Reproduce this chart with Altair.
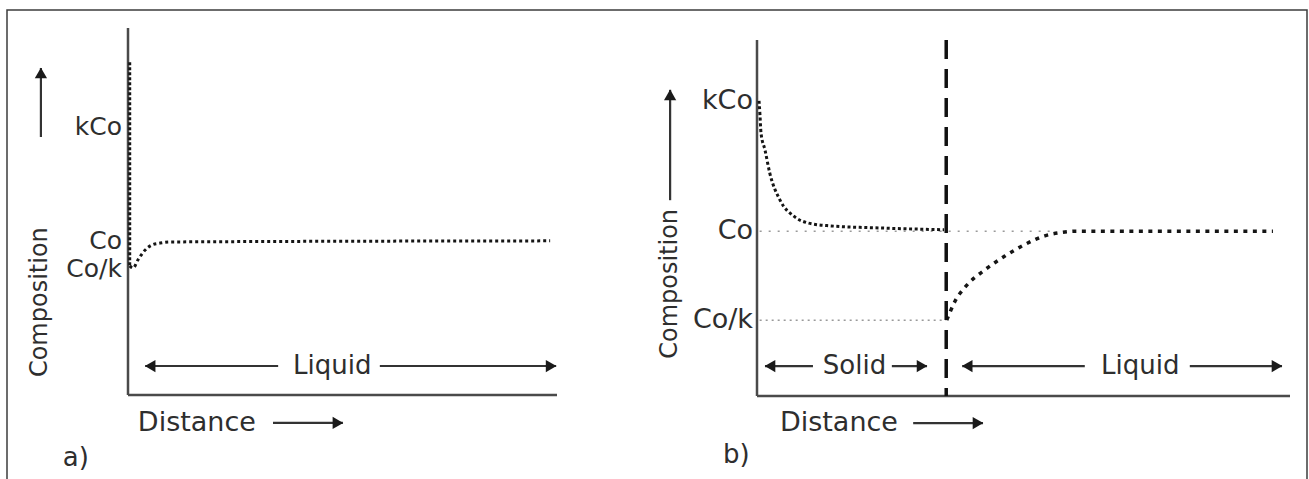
import altair as alt
import pandas as pd

FONT = "DejaVu Sans"
TEXT = "#2e2e2e"
AXIS = "#4a4a4a"
CURVE = "#151515"
REF = "#9a9a9a"

# ---------------- panel a: liquid only ----------------
a_level_names = ["kCo", "Co", "Co/k"]
a_level_values = [73.0, 42.0, 34.2]

# composition pinned to the wall, then the profile into the liquid
a_wall_dist = [0.4, 0.4]
a_wall_comp = [90.7, 35.2]
a_curve_dist = [0.4, 1.2, 2.3, 4.0, 5.6, 7.5, 9.8, 98.4]
a_curve_comp = [35.2, 34.6, 36.8, 39.5, 40.9, 41.4, 41.7, 42.0]

a_arrow_tail = [35.0, 58.7, 33.8]
a_arrow_tip = [4.0, 99.8, 50.1]
a_arrow_y = [7.9, 7.9, -7.6]
a_up_x, a_up_tail, a_up_tip = -20.3, 70.3, 89.1

# ---------------- panel b: solid | liquid ----------------
b_level_names = ["kCo", "Co", "Co/k"]
b_level_values = [82.9, 46.3, 21.3]
b_interface = 35.5

b_solid_dist = [0.38, 0.56, 0.75, 1.5, 2.4, 4.3, 7.1, 9.6, 13.7, 23.1, 35.1]
b_solid_comp = [82.9, 78.9, 73.9, 69.1, 62.6, 55.1, 50.3, 48.6, 47.8, 47.2, 46.7]
b_liquid_dist = [35.6, 36.2, 37.1, 39.0, 42.8, 46.5, 50.3, 54.0, 57.0, 60.0, 96.8]
b_liquid_comp = [21.3, 23.5, 26.5, 30.5, 35.5, 39.3, 42.6, 45.0, 45.9, 46.3, 46.3]

b_arrow_tail = [10.5, 25.3, 61.5, 81.2, 29.3]
b_arrow_tip = [1.5, 31.9, 38.5, 98.5, 42.4]
b_arrow_y = [8.4, 8.4, 8.4, 8.4, -7.6]
b_up_x, b_up_tail, b_up_tip = -16.3, 55.0, 86.0

# scales: both panels span distance 0..100 and composition 0..100
xa = alt.Scale(domain=[0, 100], range=[121, 550], nice=False, zero=False)
ya = alt.Scale(domain=[0, 100], range=[385, 18], nice=False, zero=False)
xb = alt.Scale(domain=[0, 100], range=[750, 1283], nice=False, zero=False)
yb = alt.Scale(domain=[0, 100], range=[386, 30], nice=False, zero=False)


def X(s):
    return alt.X("x:Q", scale=s, axis=None)


def Y(s):
    return alt.Y("y:Q", scale=s, axis=None)


def segments(x, y, x2, y2, xs, ys, color, width, dash=None):
    df = pd.DataFrame({"x": x, "y": y, "x2": x2, "y2": y2})
    kw = dict(color=color, strokeWidth=width, strokeCap="butt")
    if dash:
        kw["strokeDash"] = dash
    return alt.Chart(df).mark_rule(**kw).encode(
        x=X(xs), y=Y(ys), x2="x2:Q", y2="y2:Q"
    )


def profile(dist, comp, xs, ys, dash, width, interp="monotone"):
    df = pd.DataFrame({"x": dist, "y": comp, "i": list(range(len(dist)))})
    return alt.Chart(df).mark_line(
        color=CURVE, strokeWidth=width, strokeDash=dash,
        interpolate=interp, strokeCap="butt"
    ).encode(x=X(xs), y=Y(ys), order="i:Q")


def heads(x, y, xs, ys, shape, xoff=0, yoff=0):
    df = pd.DataFrame({"x": x, "y": y})
    return alt.Chart(df).mark_point(
        shape=shape, filled=True, size=150, color="#1a1a1a", opacity=1,
        xOffset=xoff, yOffset=yoff
    ).encode(x=X(xs), y=Y(ys))


def labels(x, y, t, xs, ys, size, align, angle=0, dx=0):
    df = pd.DataFrame({"x": x, "y": y, "t": t})
    return alt.Chart(df).mark_text(
        font=FONT, fontSize=size, color=TEXT, align=align,
        baseline="middle", angle=angle, dx=dx
    ).encode(x=X(xs), y=Y(ys), text="t:N")


def arrows(tail, tip, y, xs, ys):
    layers = [segments(tail, y, tip, y, xs, ys, "#333333", 2.2)]
    left = [(t, yy) for t, tl, yy in zip(tip, tail, y) if t < tl]
    right = [(t, yy) for t, tl, yy in zip(tip, tail, y) if t > tl]
    if left:
        layers.append(heads([p[0] for p in left], [p[1] for p in left], xs, ys,
                            "triangle-left", xoff=5))
    if right:
        layers.append(heads([p[0] for p in right], [p[1] for p in right], xs, ys,
                            "triangle-right", xoff=-5))
    return layers


# ---------------- build panel a ----------------
panel_a = alt.layer(
    segments([0, 0], [0, 0], [0, 100], [100, 0], xa, ya, AXIS, 2.5),
    profile(a_wall_dist, a_wall_comp, xa, ya, [3, 2], 3, interp="linear"),
    profile(a_curve_dist, a_curve_comp, xa, ya, [3, 3], 3),
    labels([0] * 3, a_level_values, a_level_names, xa, ya, 25, "right", dx=-6),
    *arrows(a_arrow_tail, a_arrow_tip, a_arrow_y, xa, ya),
    segments([a_up_x], [a_up_tail], [a_up_x], [a_up_tip], xa, ya, "#333333", 2.2),
    heads([a_up_x], [a_up_tip], xa, ya, "triangle-up", yoff=5),
    labels([47.6], [7.9], ["Liquid"], xa, ya, 26, "center"),
    labels([2.3], [-7.6], ["Distance"], xa, ya, 27, "left"),
    labels([-15.2], [-17.2], ["a)"], xa, ya, 26, "left"),
    labels([-20.5], [25.3], ["Composition"], xa, ya, 24, "center", angle=270),
)

# ---------------- build panel b ----------------
panel_b = alt.layer(
    segments([0.5], [b_level_values[1]], [55.0], [b_level_values[1]], xb, yb, REF, 1.5, [2, 7]),
    segments([0.5], [b_level_values[2]], [b_interface], [b_level_values[2]], xb, yb, REF, 1.5, [2, 4]),
    segments([0, 0], [0, 0], [0, 100], [100, 0], xb, yb, AXIS, 2.5),
    profile(b_solid_dist, b_solid_comp, xb, yb, [3, 2.6], 3),
    profile(b_liquid_dist, b_liquid_comp, xb, yb, [4, 5.5], 3.5),
    segments([b_interface], [100], [b_interface], [0], xb, yb, "#111111", 3.5, [19, 10]),
    labels([0] * 3, b_level_values, b_level_names, xb, yb, 27, "right", dx=-4),
    *arrows(b_arrow_tail, b_arrow_tip, b_arrow_y, xb, yb),
    segments([b_up_x], [b_up_tail], [b_up_x], [b_up_tip], xb, yb, "#333333", 2.2),
    heads([b_up_x], [b_up_tip], xb, yb, "triangle-up", yoff=5),
    labels([18.3], [8.4], ["Solid"], xb, yb, 26, "center"),
    labels([71.9], [8.4], ["Liquid"], xb, yb, 26, "center"),
    labels([4.3], [-7.6], ["Distance"], xb, yb, 27, "left"),
    labels([-6.4], [-16.6], ["b)"], xb, yb, 26, "left"),
    labels([b_up_x], [31.5], ["Composition"], xb, yb, 24, "center", angle=270),
)

chart = (
    alt.layer(panel_a, panel_b)
    .resolve_scale(x="independent", y="independent")
    .properties(
        width=1300,
        height=473,
        padding={"left": 7, "top": 10, "right": 2, "bottom": -4},
        autosize="none",
        background="white",
    )
    .configure_view(stroke="#3c3c3c", strokeWidth=1.5)
)

chart.save("out.html", embed_options={"renderer": "svg", "actions": False})
